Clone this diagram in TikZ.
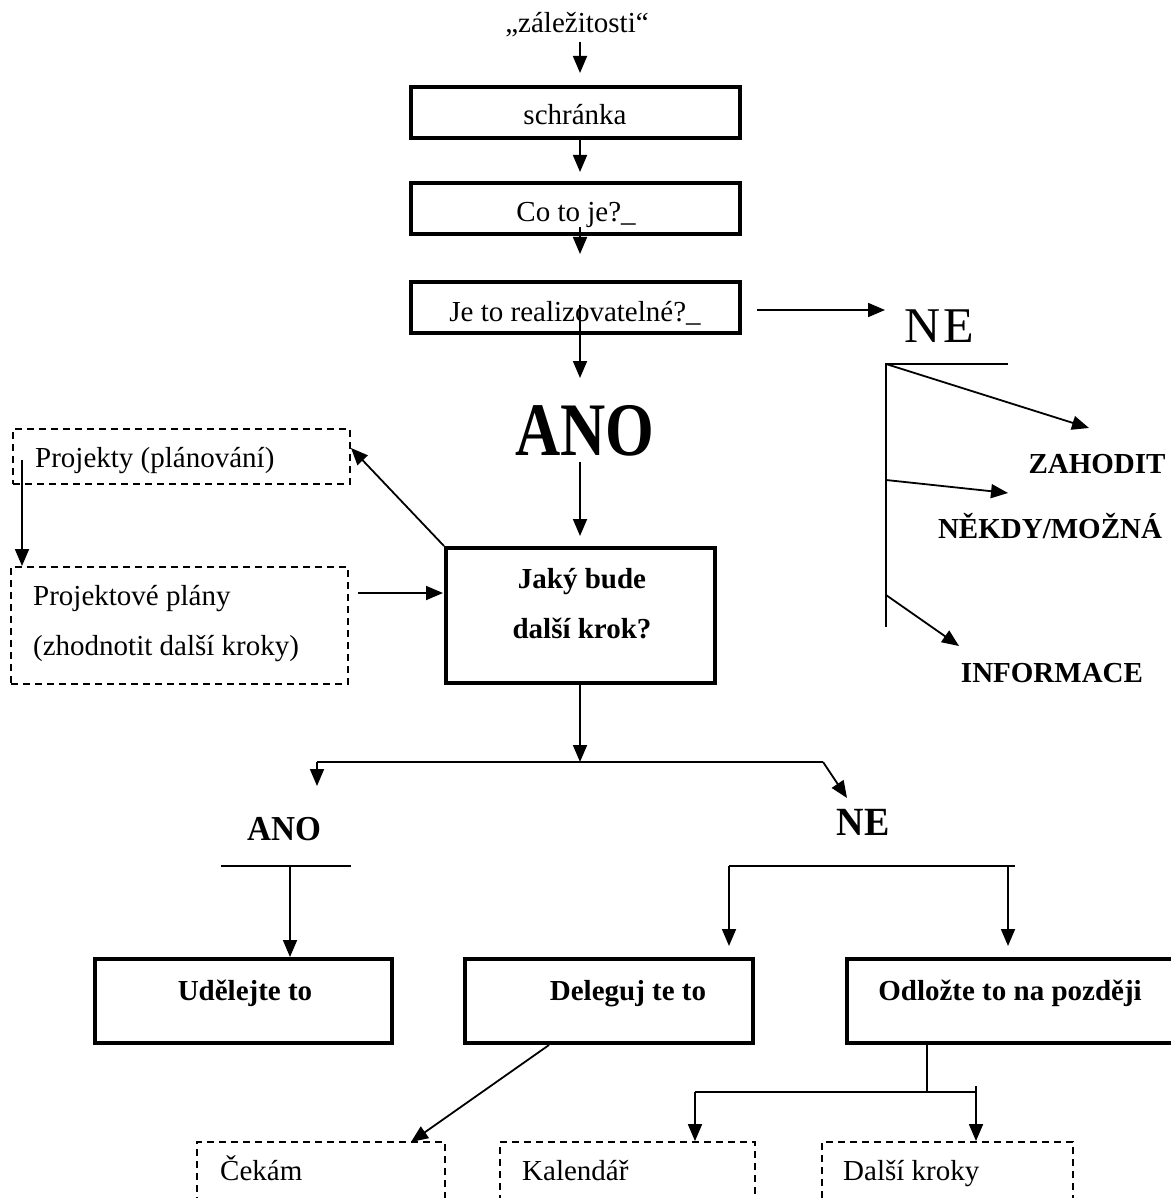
\documentclass[tikz,border=0pt]{standalone}
\usepackage{fontspec}
\setmainfont{Liberation Serif}
\usetikzlibrary{arrows.meta}
\begin{document}
\begin{tikzpicture}[x=1pt,y=-1pt,
  arr/.style={-{Triangle[length=17pt,width=14pt]}, line width=1.8pt},
  ln/.style={line width=1.8pt},
  sbox/.style={draw, line width=4pt, inner sep=0pt},
  dbox/.style={draw, line width=1.8pt, dash pattern=on 7pt off 5pt, inner sep=0pt},
  txt/.style={font=\fontsize{29}{35}\selectfont, inner sep=0pt, anchor=base},
  btxt/.style={font=\bfseries\fontsize{29}{35}\selectfont, inner sep=0pt, anchor=base}]
\fill[white] (0,0) rectangle (1170,1198);
\useasboundingbox (0,0) rectangle (1170,1198);

% boxes
\node[sbox, minimum width=329pt, minimum height=51pt] (schranka) at (575,113) {};
\node[sbox, minimum width=329pt, minimum height=51pt] (coto) at (575,209) {};
\node[sbox, minimum width=329pt, minimum height=51pt] (real) at (575,307) {};
\node[sbox, minimum width=269pt, minimum height=135pt] (jaky) at (580.5,615.5) {};
\node[dbox, minimum width=337pt, minimum height=55pt] (proj) at (181.5,456.5) {};
\node[dbox, minimum width=337pt, minimum height=117pt] (plany) at (179.5,625.5) {};
\node[sbox, minimum width=297pt, minimum height=84pt] (udel) at (243.5,1001) {};
\node[sbox, minimum width=288pt, minimum height=84pt] (deleg) at (609,1001) {};
\node[sbox, minimum width=333pt, minimum height=84pt] (odloz) at (1013.5,1001) {};
\node[dbox, minimum width=248pt, minimum height=73pt] (cekam) at (321,1178.5) {};
\node[dbox, minimum width=255pt, minimum height=73pt] (kal) at (627.5,1178.5) {};
\node[dbox, minimum width=251pt, minimum height=73pt] (dalsi) at (947.5,1178.5) {};

% texts
\node[txt] (zal) at (577,33) {„záležitosti“};
\node[txt] at (575,125) {schránka};
\node[txt] at (576,222) {Co to je?\_};
\node[txt] at (575,321) {Je to realizovatelné?\_};
\node[inner sep=0pt, anchor=base, font=\fontsize{50}{60}\selectfont] (ne1) at (939,342) {N\kern3pt E};
\node[btxt] (zahodit) at (1097,473) {ZAHODIT};
\node[btxt] (nekdy) at (1050,538) {NĚKDY/MOŽNÁ};
\node[btxt] (info) at (1052,682) {INFORMACE};
\node[inner sep=0pt, anchor=base, font=\bfseries\fontsize{72}{80}\selectfont, xscale=0.87, yscale=1.05] (ano1) at (585,455) {ANO};
\node[btxt] at (582,588) {Jaký bude};
\node[btxt] at (582,638) {další krok?};
\node[txt, anchor=base west] at (35,467) {Projekty (plánování)};
\node[txt, anchor=base west] at (33,605) {Projektové plány};
\node[txt, anchor=base west] at (33,655) {(zhodnotit další kroky)};
\node[inner sep=0pt, anchor=base, font=\bfseries\fontsize{35}{40}\selectfont, xscale=0.95] (ano2) at (284,840) {ANO};
\node[inner sep=0pt, anchor=base, font=\bfseries\fontsize{40}{46}\selectfont, xscale=0.95] (ne2) at (863,835) {NE};
\node[btxt] at (245,1000) {Udělejte to};
\node[btxt] at (628,1000) {Deleguj te to};
\node[btxt] at (1010,1000) {Odložte to na později};
\node[txt, anchor=base west] at (220,1180) {Čekám};
\node[txt, anchor=base west] at (522,1180) {Kalendář};
\node[txt, anchor=base west] at (843,1180) {Další kroky};

% coordinates
\coordinate (a1s) at (580,42);  \coordinate (a1e) at (580,73);
\coordinate (a2s) at (580,140); \coordinate (a2e) at (580,172);
\coordinate (a3s) at (580,227); \coordinate (a3e) at (580,254);
\coordinate (a4s) at (580,305); \coordinate (a4e) at (580,378);
\coordinate (a5s) at (757,310); \coordinate (a5e) at (885,310);
\coordinate (a6s) at (580,462); \coordinate (a6e) at (580,536);
\coordinate (a7e) at (351,448);
\coordinate (a8s) at (22,460);  \coordinate (a8e) at (22,566);
\coordinate (a9s) at (358,593); \coordinate (a9e) at (443,593);
\coordinate (b1s) at (580,684); \coordinate (b1e) at (580,762);
\coordinate (bl) at (317,762);  \coordinate (br) at (823,762);
\coordinate (ble) at (317,786); \coordinate (bre) at (847,798);
\coordinate (u1) at (221,866);  \coordinate (u2) at (351,866);
\coordinate (um) at (290,866);
\coordinate (n1) at (729,866);  \coordinate (n2) at (1015,866);
\coordinate (n3) at (1008,866);
\coordinate (d1) at (549,1045); \coordinate (d2) at (411,1142);
\coordinate (o1) at (927,1045); \coordinate (o2) at (927,1092);
\coordinate (ol) at (695,1092); \coordinate (or) at (976,1092);
\coordinate (ort) at (976,1086);
\coordinate (r1) at (886,364);  \coordinate (r2) at (1008,364);
\coordinate (r3) at (886,627);
\coordinate (r4) at (886,480);  \coordinate (r5) at (886,595);
\coordinate (rz) at (1089,428); \coordinate (rn) at (1008,493);
\coordinate (ri) at (959,646);

% connectors
\draw[arr] (a1s) -- (a1e);
\draw[arr] (a2s) -- (a2e);
\draw[arr] (a3s) -- (a3e);
\draw[arr] (a4s) -- (a4e);
\draw[arr] (a5s) -- (a5e);
\draw[arr] (a6s) -- (a6e);
\draw[arr] (jaky.north west) -- (a7e);
\draw[arr] (a8s) -- (a8e);
\draw[arr] (a9s) -- (a9e);
\draw[arr] (b1s) -- (b1e);
\draw[ln] (bl) -- (br);
\draw[arr] (bl) -- (ble);
\draw[arr] (br) -- (bre);
\draw[ln] (u1) -- (u2);
\draw[arr] (um) -- (udel.north -| um);
\draw[ln] (n1) -- (n2);
\draw[arr] (n1) -- ++(0,80);
\draw[arr] (n3) -- ++(0,80);
\draw[arr] (d1) -- (d2);
\draw[ln] (o1) -- (o2);
\draw[ln] (ol) -- (or);
\draw[arr] (ol) -- (kal.north -| ol);
\draw[arr] (ort) -- (dalsi.north -| ort);
\draw[ln] (r2) -- (r1) -- (r3);
\draw[arr] (r1) -- (rz);
\draw[arr] (r4) -- (rn);
\draw[arr] (r5) -- (ri);
\end{tikzpicture}
\end{document}
